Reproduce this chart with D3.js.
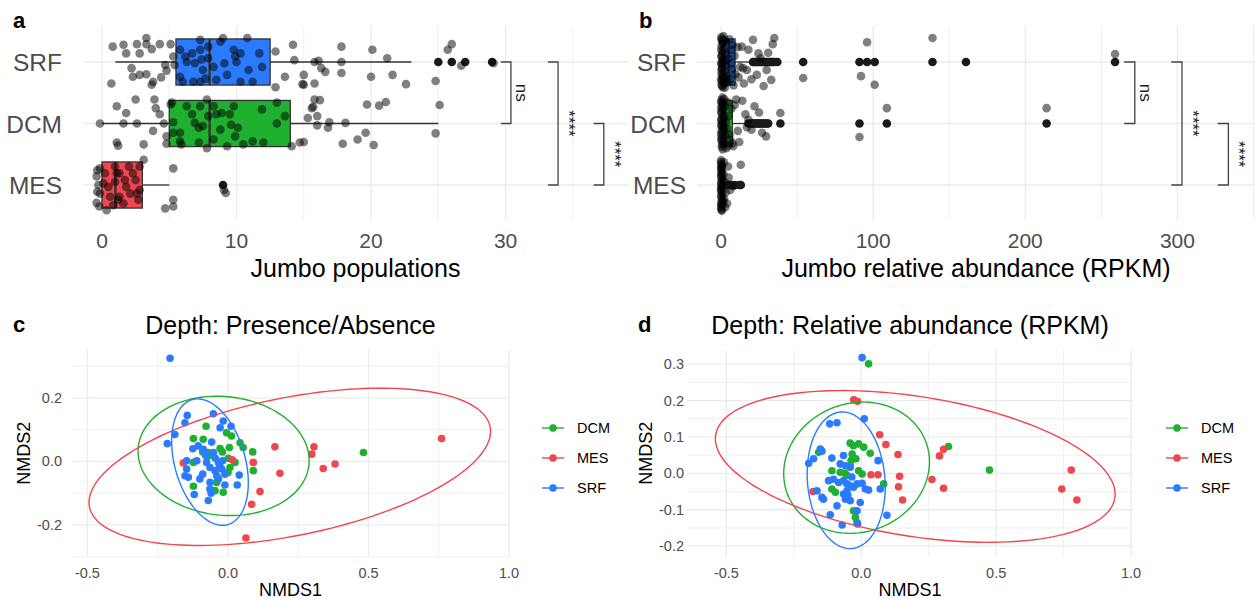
<!doctype html>
<html>
<head>
<meta charset="utf-8">
<script src="https://cdn.jsdelivr.net/npm/d3@7"></script>
<style>
  body { margin: 0; background: #fff; }
  svg { font-family: "Liberation Sans", Arial, sans-serif; }
</style>
</head>
<body>
<svg width="1257" height="601"></svg>
<script>
// ---- data ----
var depthOrder = ["SRF", "DCM", "MES"];
var legendOrder = ["DCM", "MES", "SRF"];

// boxplot stats per depth (SRF, DCM, MES): lower whisker, q1, median, q3, upper whisker
var popBox = [[1, 5.5, 8, 12.5, 23], [0, 5, 8, 14, 25], [0, 0, 1, 3, 5]];
var popOutliers = [["SRF", 25], ["SRF", 26], ["SRF", 27], ["SRF", 29], ["MES", 9]];
// jittered points: [value, vertical jitter in category units]
var popSRF = [[0.8,-0.25],[1.6,-0.28],[1.8,-0.14],[2.6,-0.29],[2.8,-0.14],[3.3,-0.39],[3.3,-0.29],[3.7,-0.21],[4.3,-0.29],[2.2,0.1],[2.3,0.24],[2.8,0.21],[3.3,0.2],[3.8,0.32],[3.7,0.37],[0.7,0.35],[4.4,0.25],[4.8,0.14],[4.7,0.05],[5.1,-0.29],[5.3,-0.09],[5.4,0.05],
  [5.8,-0.2],[6.2,-0.09],[6.3,0.0],[6.7,-0.14],[6.9,0.02],[7.3,-0.36],[7.3,-0.2],[7.4,-0.04],[7.5,0.13],[7.7,0.27],[7.9,-0.25],[7.9,-0.06],[8.3,0.08],[8.5,0.29],[8.8,-0.33],[9.0,-0.39],[9.1,0.02],[9.3,0.21],[9.8,-0.2],[9.9,-0.09],[10.0,0.0],[10.3,-0.14],[10.8,-0.39],[10.9,0.13],[11.2,0.32],[11.7,-0.14],[11.9,0.08],[5.8,0.24],[6.8,0.32],[10.3,0.32],[7.3,0.32],[6.0,0.32],
  [12.9,-0.17],[12.9,0.41],[13.6,0.24],[14.2,-0.28],[14.3,-0.03],[15.0,0.21],[15.0,0.37],[15.8,0.0],
  [17.8,-0.25],[20.1,-0.2],[21.2,-0.06],[16.1,-0.02],[17.8,0.0],[16.3,0.1],[16.6,0.16],[17.8,0.18],[20.0,0.24],[21.6,0.21],[22.6,0.36],[15.8,0.35],[14.9,0.36],[24.8,0.31],[25.7,-0.2],[26.0,-0.29],[26.7,0.06],[29.1,0.02]];
var popDCM = [[-0.15,0.0],[1.1,-0.28],[1.6,0.0],[1.8,-0.17],[1.1,0.31],[1.2,0.36],[2.5,-0.39],[2.6,0.0],[3.1,0.34],[3.8,0.12],[3.9,-0.39],[4.0,-0.25],[4.3,-0.15],[4.6,0.0],[4.8,0.21],[4.8,0.33],[5.1,-0.31],
  [5.2,-0.34],[5.3,0.15],[5.8,0.29],[5.9,0.34],[6.3,-0.28],[6.7,-0.15],[6.9,-0.01],[7.2,0.07],[7.3,-0.28],[7.8,-0.39],[7.9,-0.12],[7.8,0.4],[8.3,-0.28],[8.5,-0.15],[8.9,-0.17],[9.5,-0.15],[9.6,0.02],[9.8,-0.28],[9.9,0.21],[10.1,0.07],[10.5,0.34],[11.2,0.29],[12.0,0.31],[11.9,-0.23],[13.0,0.0],[13.6,-0.12],[13.0,-0.34],[7.5,0.04],[8.3,0.26],[8.8,0.1],[9.3,0.37],[7.2,0.31],[5.8,0.15],[5.3,-0.02],
  [14.1,0.37],[14.7,0.31],[15.6,-0.25],[15.8,-0.39],[16.0,-0.12],
  [15.0,0.3],[15.3,-0.09],[15.7,-0.27],[16.2,-0.38],[16.0,0.03],[16.8,0.07],[16.9,-0.02],[18.1,-0.01],[17.9,0.33],[19.0,0.26],[19.6,0.15],[20.2,0.35],[19.7,-0.31],[20.6,-0.29],[21.1,-0.35],[24.8,0.16],[25.1,-0.3]];
var popMES = [[-0.35,-0.24],[-0.4,-0.14],[-0.27,0.0],[-0.35,0.11],[-0.15,0.14],[-0.2,0.35],[0.35,0.41],[0.22,-0.19],[0.47,0.03],[0.97,-0.3],[1.1,-0.19],[0.97,-0.05],[1.2,0.24],[1.3,-0.19],[1.7,-0.08],[1.8,0.03],[2.0,-0.3],[2.1,0.14],[2.3,-0.19],[2.5,-0.08],[2.6,0.14],[2.8,-0.3],[2.8,0.08],[3.1,-0.41],[2.7,0.24],[0.84,0.33],[1.6,0.3],[0.6,0.19],[1.3,0.19],[5.3,-0.27],[5.3,0.24],[4.7,0.38],[5.3,0.35],[9.07,0.08],[9.2,0.13],[0.1,-0.03],[-0.4,0.29],[-0.15,-0.27]];

var rpkmBox = [[0, 0.8, 5, 9.2, 19], [0, 0.5, 3, 7.4, 17], [0, 0.1, 0.6, 1.8, 4]];
var rpkmOutSRF = [21,22,23,24,25,26,27,28,29,30,31,32,33,34,35,37,54,91,96,101,139,161,259];
var rpkmOutDCM = [18,20,21,22,23,24,25,26,27,28,29,30,31,39,91,109,214];
var rpkmOutMES = [5,7,9,12,13];
var rpkmSRF = [[0.2,-0.4],[0.6,-0.35],[1.1,-0.3],[0.3,-0.26],[2.0,-0.22],[0.9,-0.18],[3.4,-0.12],[0.4,-0.08],[1.5,-0.03],[0.1,0.02],[2.7,0.06],[0.7,0.1],[1.9,0.15],[0.3,0.19],[4.1,0.23],[1.2,0.27],[0.5,0.31],[2.3,0.35],[0.8,0.39],[5.5,-0.37],[6.3,-0.2],[4.8,-0.05],[7.1,0.12],[5.9,0.28],[8.2,0.38],[3.0,-0.33],[6.8,0.02],[7.6,-0.28],[4.4,0.33],[8.9,-0.1],[2.5,0.42],[1.6,-0.42],[9.5,0.2],[10.8,-0.24],[11.5,0.25],
  [0.4,-0.37],[1.3,-0.32],[0.1,-0.2],[0.9,-0.13],[0.2,-0.1],[1.7,0.0],[0.5,0.04],[1.0,0.08],[0.2,0.13],[1.4,0.2],[0.6,0.24],[0.0,0.29],[1.8,0.32],[0.3,0.37],[1.1,0.41],[0.7,-0.01],[2.2,-0.36],[2.6,0.27],
  [13.6,-0.25],[18,-0.2],[21,-0.36],[24.6,-0.14],[31,-0.15],[34,-0.29],[35,-0.39],[12.5,0.08],[17,0.13],[23.5,0.21],[30,0.13],[33,0.29],[28,0.39],[54,0.26],[96,-0.32],[92,0.23],[101,0.37],[139,-0.39],[259,-0.13],[15,0.35],[26,-0.06],[14.5,0.1],[20,0.28]];
var rpkmDCM = [[0.3,-0.38],[0.8,-0.33],[0.2,-0.27],[1.4,-0.22],[0.5,-0.16],[2.2,-0.1],[0.1,-0.05],[1.0,0.0],[0.4,0.05],[1.8,0.1],[0.6,0.15],[2.9,0.2],[0.2,0.25],[1.3,0.3],[0.7,0.35],[3.5,0.4],[4.2,-0.35],[5.0,-0.12],[3.8,0.08],[6.1,0.27],[2.6,-0.29],[4.6,0.36],[5.6,0.18],[6.8,-0.24],[7.5,0.32],[1.1,0.42],[0.9,-0.42],[3.2,-0.02],
  [0.1,-0.35],[1.0,-0.3],[0.5,-0.24],[0.0,-0.19],[1.2,-0.12],[0.3,-0.08],[0.8,-0.02],[0.2,0.03],[1.5,0.07],[0.4,0.12],[0.0,0.18],[0.9,0.22],[0.3,0.28],[1.7,0.33],[0.5,0.38],[2.0,-0.4],
  [10,-0.39],[14,-0.37],[22,-0.28],[18,-0.06],[17,0.06],[29.6,0.21],[39,-0.17],[91,0.22],[109,-0.25],[214,-0.25],[25,-0.18],[9,-0.3],[12,0.3],[8,0.37],[11,0.12],[20,0.1],[27,0.15],[16,-0.15]];
var rpkmMES = [[0.1,-0.4],[0.3,-0.34],[0.0,-0.28],[0.6,-0.22],[0.2,-0.16],[1.0,-0.1],[0.1,-0.04],[0.4,0.02],[0.0,0.08],[0.8,0.14],[0.2,0.2],[1.5,0.26],[0.3,0.32],[0.1,0.38],[0.5,0.42],[1.9,-0.37],[2.4,-0.05],[1.2,0.3],[3.0,0.12],[2.0,0.22],[0.7,-0.3],[1.6,-0.18],[2.7,0.36],[0.9,0.05],
  [0.0,-0.37],[0.4,-0.31],[0.1,-0.25],[0.2,-0.19],[0.0,-0.13],[0.5,-0.07],[0.2,-0.01],[0.0,0.05],[0.3,0.11],[0.1,0.17],[0.6,0.24],[0.0,0.29],[0.2,0.35],[0.4,0.4],
  [13,-0.33],[4.6,-0.3],[6,0.08],[4,0.3],[5,-0.12],[8,0.02]];

// significance brackets: [from, to, position on value axis, label]
var popBrackets = [["SRF","DCM",30.4,"ns"],["SRF","MES",33.9,"****"],["DCM","MES",37.3,"****"]];
var rpkmBrackets = [["SRF","DCM",272,"ns"],["SRF","MES",303,"****"],["DCM","MES",333.5,"****"]];

// NMDS coordinates [NMDS1, NMDS2]
var paDCM = [[-0.078,0.111],[-0.123,0.072],[-0.088,0.07],[-0.005,0.09],[0.013,0.08],[0.043,0.059],[0.054,0.044],[0.088,0.03],[0.005,0.044],[-0.028,0.041],[-0.07,0.028],[-0.075,0.015],[-0.123,-0.003],[0.001,0.01],[0.025,-0.003],[0.007,-0.019],[0.09,-0.029],[-0.04,-0.066],[-0.123,-0.078],[-0.046,-0.092],[-0.017,-0.097],[0.482,0.028],[-0.06,0.02],[-0.02,0.03],[0.0,-0.035],[-0.09,0.03]];
var paMES = [[-0.159,-0.005],[0.09,-0.003],[0.167,0.046],[0.185,-0.037],[0.114,-0.095],[0.084,-0.135],[0.064,-0.241],[0.306,0.046],[0.298,0.023],[0.339,-0.022],[0.381,-0.008],[0.76,0.072],[0.015,0.005]];
var paSRF = [[-0.206,0.325],[-0.145,0.145],[-0.052,0.15],[-0.153,0.122],[-0.017,0.127],[0.011,0.111],[-0.028,0.106],[-0.189,0.085],[-0.216,0.056],[-0.058,0.061],[-0.106,0.049],[-0.088,0.038],[-0.052,0.028],[-0.111,0.002],[-0.147,0.002],[-0.076,-0.003],[-0.034,-0.003],[-0.064,-0.019],[-0.022,-0.024],[-0.046,-0.029],[-0.147,-0.024],[-0.153,-0.045],[-0.141,-0.05],[-0.1,-0.055],[-0.064,-0.066],[-0.034,-0.055],[-0.011,-0.04],[0.04,-0.043],[0.033,-0.074],[-0.011,-0.074],[-0.064,-0.087],[-0.12,-0.104],[-0.07,-0.123],[-0.019,0.002],[-0.08,0.02],[-0.045,0.01],[-0.03,-0.012],[-0.09,-0.04],[-0.04,-0.045],[-0.125,0.04],[-0.06,-0.1]];
var raDCM = [[0.027,0.301],[-0.041,0.083],[-0.029,0.076],[-0.01,0.081],[0.009,0.072],[0.033,0.055],[-0.034,0.053],[-0.038,0.035],[-0.041,0.021],[-0.158,0.058],[-0.109,0.007],[-0.078,0.003],[-0.053,-0.006],[-0.01,0.007],[0.003,-0.002],[0.083,-0.029],[-0.109,-0.043],[-0.096,-0.052],[-0.029,-0.103],[-0.022,-0.121],[-0.016,-0.135],[0.323,0.074],[0.475,0.009],[-0.02,0.04],[-0.06,0.0]];
var raMES = [[-0.028,0.202],[-0.014,0.198],[0.068,0.106],[0.091,0.079],[0.136,0.052],[0.142,-0.008],[0.138,-0.037],[0.153,-0.073],[0.036,-0.004],[0.062,-0.004],[-0.179,-0.05],[0.29,0.048],[0.262,-0.017],[0.305,-0.041],[0.305,0.066],[0.778,0.009],[0.743,-0.043],[0.799,-0.073]];
var raSRF = [[0.003,0.318],[0.011,0.15],[-0.117,0.136],[-0.09,0.139],[-0.152,0.067],[-0.146,0.061],[-0.195,0.028],[-0.177,0.04],[-0.109,0.042],[-0.066,0.049],[-0.078,0.026],[-0.059,0.021],[-0.041,0.017],[0.062,0.035],[-0.121,-0.02],[-0.103,-0.016],[-0.084,-0.025],[-0.066,-0.02],[-0.053,-0.029],[-0.041,-0.034],[-0.029,-0.038],[-0.016,-0.029],[0.003,-0.027],[0.015,-0.043],[0.027,-0.046],[-0.053,-0.048],[-0.066,-0.057],[-0.164,-0.048],[-0.146,-0.066],[-0.14,-0.071],[-0.09,-0.089],[-0.059,-0.071],[-0.041,-0.075],[-0.004,-0.08],[-0.016,-0.103],[-0.115,-0.114],[-0.071,-0.142],[-0.014,-0.139],[0.095,-0.115],[0.07,-0.043],[-0.035,-0.01],[-0.05,-0.06]];

// 95% ellipses: [centre x, centre y, semi-axis a, semi-axis b, angle deg]
var paEllipse = {DCM: [-0.0155, 0.0175, 0.305, 0.187, -4.35], MES: [0.22, -0.017, 0.724, 0.218, 9.8], SRF: [-0.064, -0.002, 0.207, 0.124, -70]};
var raEllipse = {DCM: [-0.0175, 0.0155, 0.271, 0.179, 6.1], MES: [0.2, 0.019, 0.745, 0.193, -6.3], SRF: [-0.056, -0.019, 0.189, 0.143, -79.9]};

var popTicks = [0, 10, 20, 30];
var rpkmTicks = [0, 100, 200, 300];
var paXTicks = [-0.5, 0, 0.5, 1.0], paYTicks = [-0.2, 0, 0.2];
var raXTicks = [-0.5, 0, 0.5, 1.0], raYTicks = [-0.2, -0.1, 0, 0.1, 0.2, 0.3];

// ---- styles ----
var col = {SRF: "#2a7bff", DCM: "#1fb02f", MES: "#f0464e"};
var gridCol = "#ebebeb", textGrey = "#4d4d4d";

var svg = d3.select("svg");

function label(x, y, txt, size, opts) {
  opts = opts || {};
  return svg.append("text").attr("x", x).attr("y", y).text(txt)
    .attr("font-size", size + "px")
    .attr("fill", opts.fill || "#000")
    .attr("font-weight", opts.bold ? "bold" : null)
    .attr("text-anchor", opts.anchor || "start");
}

// ---- top panels (boxplots) ----
function boxPanel(cfg) {
  var g = svg.append("g");
  var x = cfg.x, y = cfg.y, step = y.step();
  var r0 = x.range(), top = 26, bottom = 220;

  // grid
  x.ticks(8).forEach(function(t) {
    var major = cfg.ticks.indexOf(t) >= 0;
    g.append("line").attr("x1", x(t)).attr("x2", x(t)).attr("y1", top).attr("y2", bottom)
      .attr("stroke", gridCol).attr("stroke-width", major ? 1.3 : 0.8);
  });
  depthOrder.forEach(function(d) {
    g.append("line").attr("x1", r0[0]).attr("x2", r0[1]).attr("y1", y(d)).attr("y2", y(d))
      .attr("stroke", gridCol).attr("stroke-width", 1.3);
  });

  // boxes
  depthOrder.forEach(function(d, i) {
    var b = cfg.box[i], yc = y(d), h = 0.375 * step;
    g.append("line").attr("x1", x(b[0])).attr("x2", x(b[1])).attr("y1", yc).attr("y2", yc)
      .attr("stroke", "#333").attr("stroke-width", 1.3);
    g.append("line").attr("x1", x(b[3])).attr("x2", x(b[4])).attr("y1", yc).attr("y2", yc)
      .attr("stroke", "#333").attr("stroke-width", 1.3);
    g.append("rect").attr("x", x(b[1])).attr("y", yc - h).attr("width", x(b[3]) - x(b[1])).attr("height", 2 * h)
      .attr("fill", col[d]).attr("stroke", "#333").attr("stroke-width", 1.3);
    g.append("line").attr("x1", x(b[2])).attr("x2", x(b[2])).attr("y1", yc - h).attr("y2", yc + h)
      .attr("stroke", "#333").attr("stroke-width", 2.4);
  });
  g.selectAll("circle.out").data(cfg.outliers).enter().append("circle")
    .attr("cx", function(d) { return x(d[1]); })
    .attr("cy", function(d) { return y(d[0]); })
    .attr("r", 4.3).attr("fill", "#1a1a1a");

  // jittered points
  depthOrder.forEach(function(d) {
    g.selectAll(null).data(cfg.points[d]).enter().append("circle")
      .attr("cx", function(p) { return x(p[0]); })
      .attr("cy", function(p) { return y(d) + p[1] * step; })
      .attr("r", 4.3).attr("fill", "#000").attr("fill-opacity", 0.5);
  });

  // brackets
  cfg.brackets.forEach(function(b) {
    var xa = x(b[2]), tick = x(b[2]) - x(b[2] - cfg.tickLen);
    var y1 = y(b[0]), y2 = y(b[1]);
    g.append("path").attr("d", "M" + (xa - tick) + "," + y1 + "H" + xa + "V" + y2 + "H" + (xa - tick))
      .attr("fill", "none").attr("stroke", "#444").attr("stroke-width", 1.3);
    g.append("text").attr("transform", "translate(" + (xa + 5) + "," + ((y1 + y2) / 2) + ") rotate(90)")
      .attr("text-anchor", "middle").attr("font-size", "17px").attr("fill", "#222").text(b[3]);
  });

  // axes text
  cfg.ticks.forEach(function(t) {
    label(x(t), 248, String(t), 21, {anchor: "middle", fill: textGrey});
  });
  depthOrder.forEach(function(d) {
    label(cfg.catX, y(d) + 9, d, 24.5, {anchor: "end", fill: textGrey});
  });
  label((r0[0] + r0[1]) / 2, 277, cfg.title, 25, {anchor: "middle"});
  label(cfg.tagX, 28, cfg.tag, 22, {bold: true});
}

boxPanel({
  x: d3.scaleLinear().domain([-1.41, 39.1]).range([83, 628]),
  y: d3.scalePoint().domain(depthOrder).range([62, 185]),
  ticks: popTicks, box: popBox, outliers: popOutliers,
  points: {SRF: popSRF, DCM: popDCM, MES: popMES},
  brackets: popBrackets, tickLen: 0.75,
  catX: 62, title: "Jumbo populations", tag: "a", tagX: 13
});

var rpkmOutliers = rpkmOutSRF.map(function(v) { return ["SRF", v]; })
  .concat(rpkmOutDCM.map(function(v) { return ["DCM", v]; }))
  .concat(rpkmOutMES.map(function(v) { return ["MES", v]; }));

boxPanel({
  x: d3.scaleLinear().domain([-15.8, 351]).range([697, 1255]),
  y: d3.scalePoint().domain(depthOrder).range([62, 185]),
  ticks: rpkmTicks, box: rpkmBox, outliers: rpkmOutliers,
  points: {SRF: rpkmSRF, DCM: rpkmDCM, MES: rpkmMES},
  brackets: rpkmBrackets, tickLen: 7,
  catX: 686, title: "Jumbo relative abundance (RPKM)", tag: "b", tagX: 639
});

// ---- bottom panels (NMDS) ----
function ellipsePath(p, x, y) {
  var th = p[4] * Math.PI / 180, pts = [];
  for (var k = 0; k < 160; k++) {
    var t = k / 160 * 2 * Math.PI;
    var ex = p[0] + p[2] * Math.cos(t) * Math.cos(th) - p[3] * Math.sin(t) * Math.sin(th);
    var ey = p[1] + p[2] * Math.cos(t) * Math.sin(th) + p[3] * Math.sin(t) * Math.cos(th);
    pts.push([x(ex), y(ey)]);
  }
  return d3.line().curve(d3.curveLinearClosed)(pts);
}

function nmdsPanel(cfg) {
  var g = svg.append("g");
  var x = cfg.x, y = cfg.y, xr = x.range(), yr = y.range();
  var fmt = function(v) { return v.toFixed(1); };

  cfg.xMinor.forEach(function(t) {
    g.append("line").attr("x1", x(t)).attr("x2", x(t)).attr("y1", yr[1]).attr("y2", yr[0])
      .attr("stroke", gridCol).attr("stroke-width", 0.8);
  });
  cfg.yMinor.forEach(function(t) {
    g.append("line").attr("x1", xr[0]).attr("x2", xr[1]).attr("y1", y(t)).attr("y2", y(t))
      .attr("stroke", gridCol).attr("stroke-width", 0.8);
  });
  cfg.xTicks.forEach(function(t) {
    g.append("line").attr("x1", x(t)).attr("x2", x(t)).attr("y1", yr[1]).attr("y2", yr[0])
      .attr("stroke", gridCol).attr("stroke-width", 1.3);
    label(x(t), 578, fmt(t), 14.5, {anchor: "middle", fill: textGrey});
  });
  cfg.yTicks.forEach(function(t) {
    g.append("line").attr("x1", xr[0]).attr("x2", xr[1]).attr("y1", y(t)).attr("y2", y(t))
      .attr("stroke", gridCol).attr("stroke-width", 1.3);
    label(cfg.yLabX, y(t) + 5, fmt(t), 14.5, {anchor: "end", fill: textGrey});
  });

  legendOrder.forEach(function(d) {
    g.selectAll(null).data(cfg.points[d]).enter().append("circle")
      .attr("cx", function(p) { return x(p[0]); })
      .attr("cy", function(p) { return y(p[1]); })
      .attr("r", 3.8).attr("fill", col[d]);
  });
  legendOrder.forEach(function(d) {
    g.append("path").attr("d", ellipsePath(cfg.ellipse[d], x, y))
      .attr("fill", "none").attr("stroke", col[d]).attr("stroke-width", 1.4);
  });

  // legend
  legendOrder.forEach(function(d, i) {
    var ly = 428 + i * 30;
    g.append("line").attr("x1", cfg.legX - 11).attr("x2", cfg.legX + 11).attr("y1", ly).attr("y2", ly)
      .attr("stroke", col[d]).attr("stroke-width", 1.4);
    g.append("circle").attr("cx", cfg.legX).attr("cy", ly).attr("r", 3.8).attr("fill", col[d]);
    label(cfg.legX + 24, ly + 5, d, 14.5);
  });

  var cx = (xr[0] + xr[1]) / 2;
  label(cx, 334, cfg.title, 25, {anchor: "middle"});
  label(cx, 596, "NMDS1", 18, {anchor: "middle"});
  svg.append("text").attr("transform", "translate(" + (cfg.yTitleX) + "," + ((yr[0] + yr[1]) / 2) + ") rotate(-90)")
    .attr("text-anchor", "middle").attr("font-size", "18px").text("NMDS2");
  label(cfg.tagX, 332, cfg.tag, 22, {bold: true});
}

nmdsPanel({
  x: d3.scaleLinear().domain([-0.555, 1.0]).range([72, 509]),
  y: d3.scaleLinear().domain([-0.3, 0.351]).range([556.7, 350]),
  xTicks: paXTicks, yTicks: paYTicks, xMinor: [-0.25, 0.25, 0.75], yMinor: [-0.3, -0.1, 0.1, 0.3],
  points: {DCM: paDCM, MES: paMES, SRF: paSRF}, ellipse: paEllipse,
  yLabX: 62, yTitleX: 30, legX: 553, title: "Depth: Presence/Absence", tag: "c", tagX: 13
});

nmdsPanel({
  x: d3.scaleLinear().domain([-0.646, 1.007]).range([687, 1133]),
  y: d3.scaleLinear().domain([-0.229, 0.339]).range([556.7, 350]),
  xTicks: raXTicks, yTicks: raYTicks, xMinor: [-0.25, 0.25, 0.75], yMinor: [-0.15, -0.05, 0.05, 0.15, 0.25],
  points: {DCM: raDCM, MES: raMES, SRF: raSRF}, ellipse: raEllipse,
  yLabX: 684, yTitleX: 652, legX: 1177, title: "Depth: Relative abundance (RPKM)", tag: "d", tagX: 638
});
</script>
</body>
</html>
